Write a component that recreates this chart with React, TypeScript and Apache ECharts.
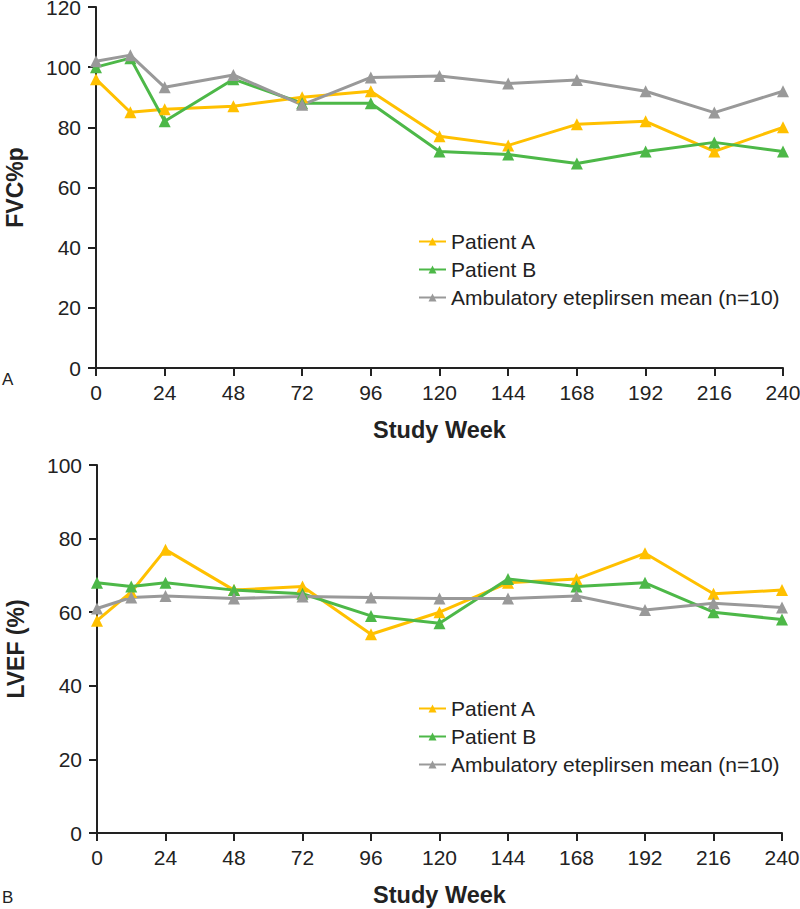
import React, { useEffect, useRef } from "react";
import * as echarts from "echarts";

const weeks = [0, 12, 24, 48, 72, 96, 120, 144, 168, 192, 216, 240];
const seriesNames = ["Patient A", "Patient B", "Ambulatory eteplirsen mean (n=10)"];
const colors = ["#FFC000", "#4DB848", "#999999"];

// Panel A: FVC%p
const fvcA = [96, 85, 86, 87, 90, 92, 77, 74, 81, 82, 72, 80];
const fvcB = [100, 103, 82, 96, 88, 88, 72, 71, 68, 72, 75, 72];
const fvcMean = [102, 104, 93.3, 97.4, 87.5, 96.6, 97.1, 94.6, 95.7, 92, 84.9, 92];

// Panel B: LVEF (%)
const lvefA = [57.7, 65.5, 77, 66, 67, 54, 60, 68, 69, 76, 65, 66];
const lvefB = [68, 67, 68, 66, 65, 59, 57, 69, 67, 68, 60, 58];
const lvefMean = [61, 64, 64.4, 63.7, 64.3, 64, 63.7, 63.7, 64.4, 60.6, 62.4, 61.3];

const FONT = "'Liberation Sans', Arial, Helvetica, sans-serif";

function pairs(vals: number[]) {
  return weeks.map((w, i) => [w, vals[i]]);
}

export default function App() {
  const ref = useRef<HTMLDivElement>(null);
  useEffect(() => {
    if (!ref.current) return;
    const chart = echarts.init(ref.current, undefined, { renderer: "svg" });
    const axisLine = { show: true, lineStyle: { color: "#222", width: 2 } };
    const axisTick = { show: true, length: 8, lineStyle: { color: "#222", width: 2 } };
    const mkX = (gridIndex: number) => ({
      type: "value",
      gridIndex,
      min: 0,
      max: 240,
      interval: 24,
      axisLine,
      axisTick,
      splitLine: { show: false },
      axisLabel: { color: "#222", fontSize: 21, fontFamily: FONT, margin: 14 },
      name: "Study Week",
      nameLocation: "middle",
      nameGap: 50,
      nameTextStyle: { color: "#222", fontSize: 23.5, fontWeight: "bold", fontFamily: FONT },
    });
    const mkY = (gridIndex: number, max: number, name: string) => ({
      type: "value",
      gridIndex,
      min: 0,
      max,
      interval: 20,
      axisLine,
      axisTick,
      splitLine: { show: false },
      axisLabel: { color: "#222", fontSize: 21, lineHeight: 14, fontFamily: FONT, margin: 15 },
      name,
      nameLocation: "middle",
      nameGap: 70,
      nameRotate: 90,
      nameTextStyle: { color: "#222", fontSize: 23, fontWeight: "bold", fontFamily: FONT },
    });
    const mkSeries = (name: string, vals: number[], color: string, idx: number) => ({
      name,
      type: "line",
      xAxisIndex: idx,
      yAxisIndex: idx,
      data: pairs(vals),
      symbol: "triangle",
      symbolSize: 12,
      lineStyle: { color, width: 3 },
      itemStyle: { color },
      color,
    });
    const legendCommon = {
      orient: "vertical",
      padding: 0,
      itemWidth: 27,
      itemHeight: 10,
      itemGap: 7,
      textStyle: { color: "#222", fontSize: 21, fontFamily: FONT, lineHeight: 21 },
      selectedMode: false,
      data: seriesNames,
    };
    chart.setOption({
      animation: false,
      backgroundColor: "#fff",
      grid: [
        { left: 96, right: 17, top: 7, bottom: 541, containLabel: false, outerBoundsMode: "none" },
        { left: 97, right: 18, top: 465, bottom: 76, containLabel: false, outerBoundsMode: "none" },
      ],
      xAxis: [mkX(0), mkX(1)],
      yAxis: [mkY(0, 120, "FVC%p"), mkY(1, 100, "LVEF (%)")],
      legend: [
        { ...legendCommon, left: 418, top: 231 },
        { ...legendCommon, left: 418, top: 698 },
      ],
      series: [
        mkSeries(seriesNames[0], fvcA, colors[0], 0),
        mkSeries(seriesNames[1], fvcB, colors[1], 0),
        mkSeries(seriesNames[2], fvcMean, colors[2], 0),
        mkSeries(seriesNames[0], lvefA, colors[0], 1),
        mkSeries(seriesNames[1], lvefB, colors[1], 1),
        mkSeries(seriesNames[2], lvefMean, colors[2], 1),
      ],
      graphic: [
        { type: "text", left: 2, top: 371, style: { text: "A", fontSize: 17, fill: "#222", fontFamily: FONT } },
        { type: "text", left: 2, top: 889, style: { text: "B", fontSize: 17, fill: "#222", fontFamily: FONT } },
      ],
    });
    return () => chart.dispose();
  }, []);
  return (
    <div
      ref={ref}
      style={{ position: "absolute", left: 0, top: 0, width: 800, height: 909 }}
    />
  );
}
